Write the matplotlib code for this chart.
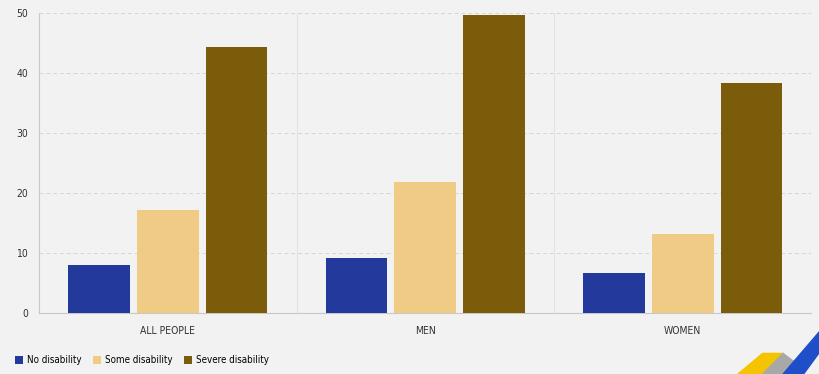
import matplotlib
matplotlib.use("Agg")
import matplotlib.pyplot as plt
import numpy as np
from matplotlib.patches import Polygon

plt.rcParams['font.family'] = ['DejaVu Sans']
plt.rcParams['font.stretch'] = 'condensed'

categories = ["ALL PEOPLE", "MEN", "WOMEN"]
series = ["No disability", "Some disability", "Severe disability"]
no_dis = [8.0, 9.2, 6.7]
some_dis = [17.2, 21.9, 13.2]
severe_dis = [44.3, 49.6, 38.4]
colors = ["#233a9c", "#efcb85", "#7a5c0b"]

bg = "#f2f2f2"
fig = plt.figure(figsize=(8.2, 3.74), dpi=100, facecolor=bg)
ax = fig.add_axes([0.0476, 0.163, 0.942, 0.802], facecolor=bg)

x = np.arange(len(categories))
w = 0.24
off = 0.267
for i, (vals, lab) in enumerate(zip([no_dis, some_dis, severe_dis], series)):
    ax.bar(x + (i - 1) * off, vals, w, color=colors[i], label=lab, zorder=3)

ax.set_xlim(-0.5, 2.5)
ax.set_ylim(0, 50)
ax.set_yticks([0, 10, 20, 30, 40, 50])
ax.set_xticks(x)
ax.set_xticklabels(categories)
ax.tick_params(axis='both', length=0, labelsize=7.5, colors="#333333")
ax.tick_params(axis='x', pad=9)
ax.tick_params(axis='y', pad=8)
ax.yaxis.grid(True, linestyle=(0, (4, 3)), color="#d6d6d6", linewidth=0.7, zorder=0)
for b in [0.5, 1.5, 2.5]:
    ax.axvline(b, color="#e2e2e2", linewidth=0.8, zorder=0)
for s in ["top", "right"]:
    ax.spines[s].set_visible(False)
ax.spines["left"].set_color("#c8c8c8")
ax.spines["bottom"].set_color("#c8c8c8")

leg = fig.legend(loc="lower left", bbox_to_anchor=(0.008, 0.0), ncol=3, frameon=False,
                 fontsize=7, handlelength=0.8, handleheight=0.8, handletextpad=0.4,
                 columnspacing=1.2)

# decorative logo corner
fig.patches.append(Polygon([[0.9, 0.0], [0.93, 0.055], [0.955, 0.055], [0.93, 0.0]],
                           closed=True, transform=fig.transFigure, color="#f5c400"))
fig.patches.append(Polygon([[0.93, 0.0], [0.955, 0.055], [0.97, 0.03], [0.96, 0.0]],
                           closed=True, transform=fig.transFigure, color="#a8a8a8"))
fig.patches.append(Polygon([[0.955, 0.0], [1.0, 0.115], [1.0, 0.06], [0.98, 0.0]],
                           closed=True, transform=fig.transFigure, color="#1f4fc8"))

fig.savefig("out.png", dpi=100, facecolor=bg)
